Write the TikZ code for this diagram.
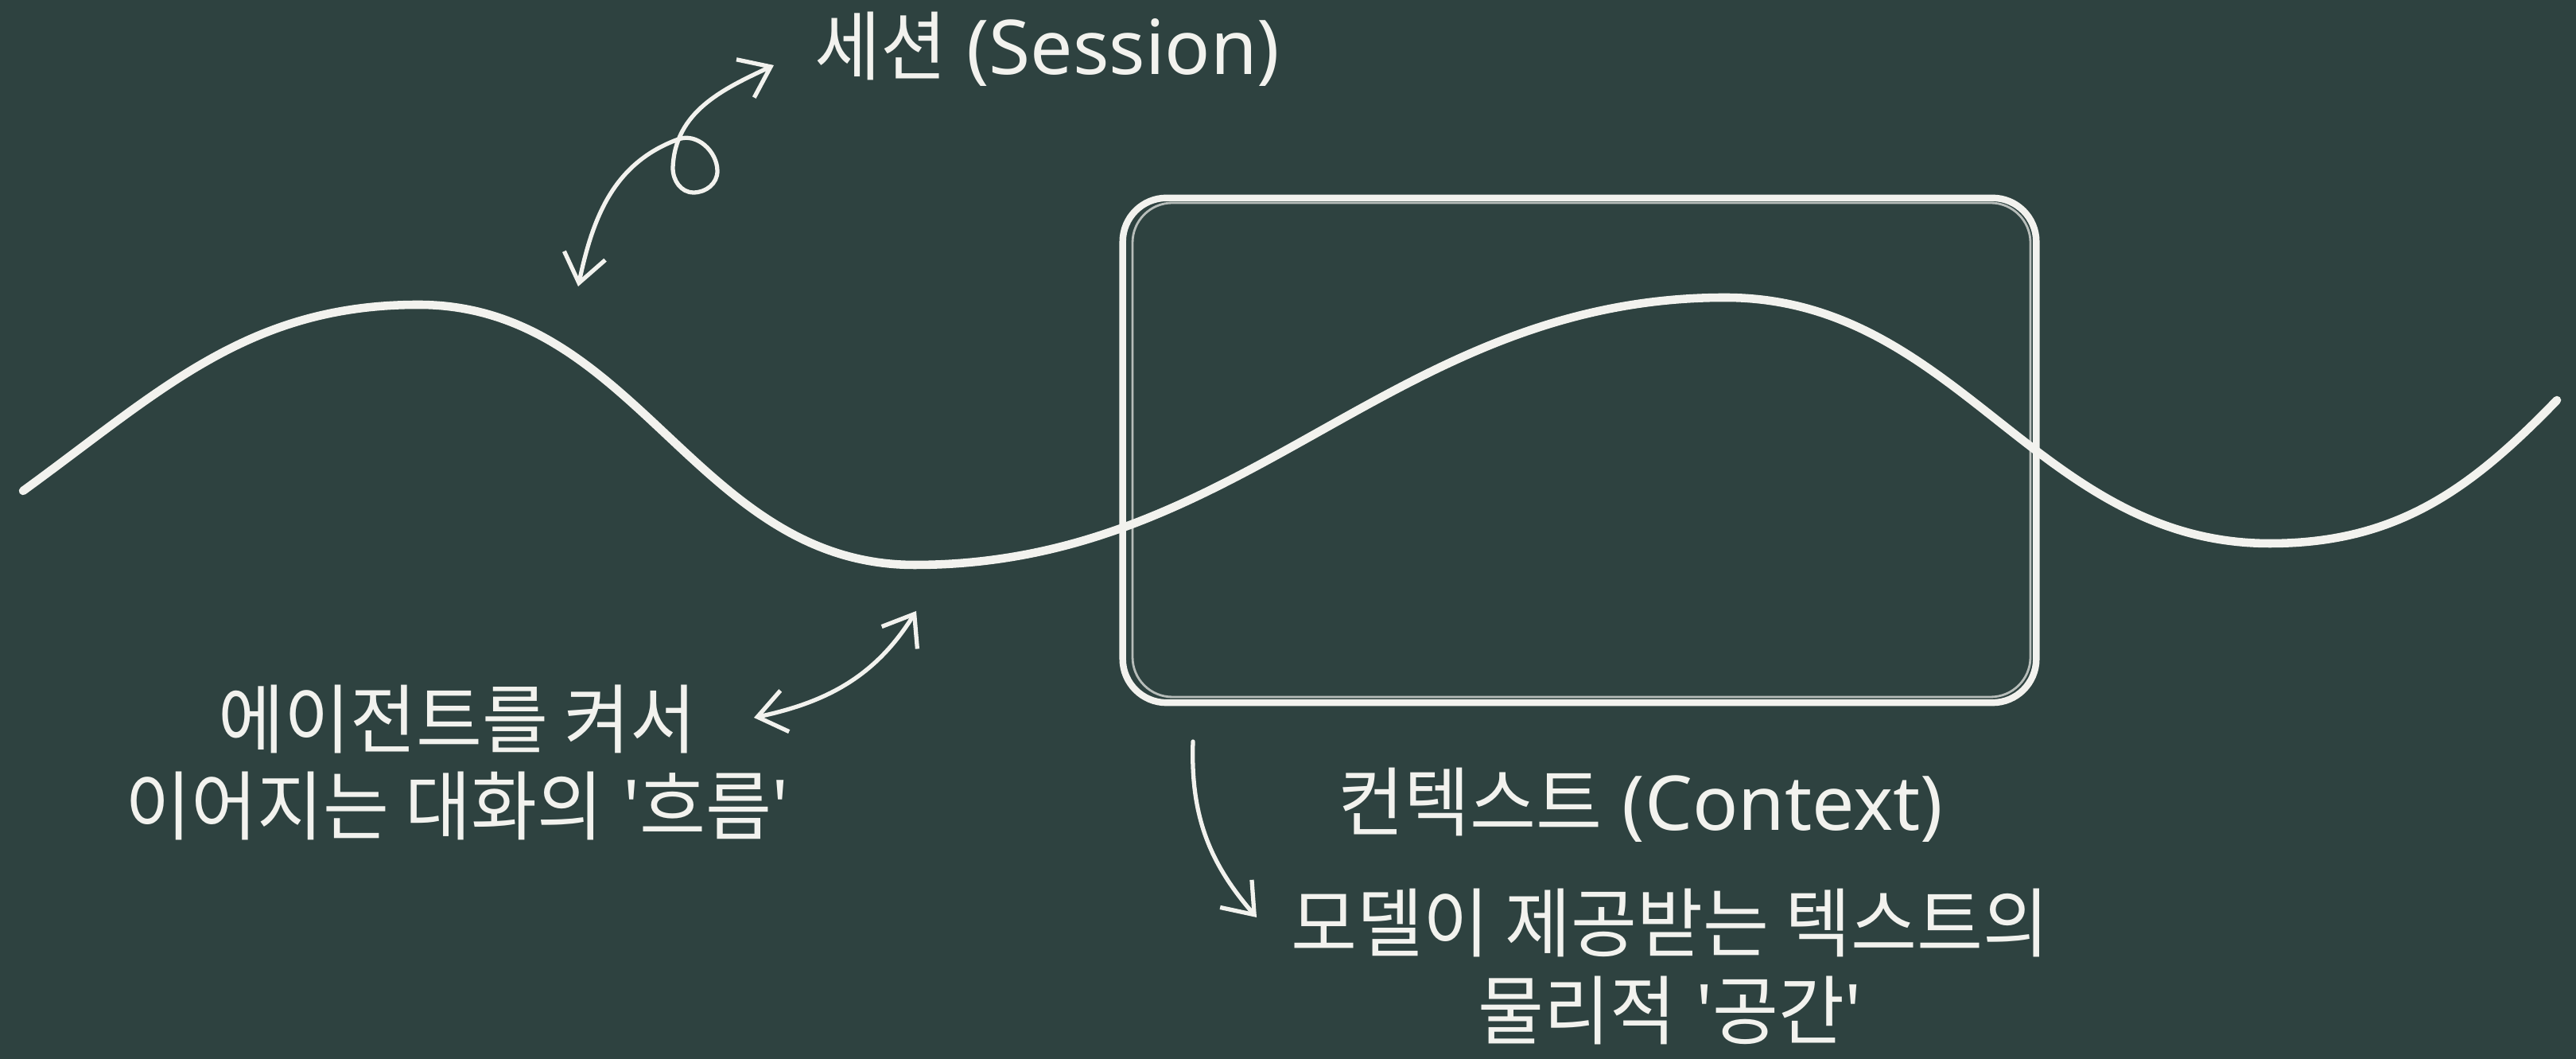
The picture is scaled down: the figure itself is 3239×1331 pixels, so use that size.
\documentclass[tikz,border=0pt]{standalone}
\usepackage{fontspec}
\setmainfont{Noto Sans}
\newfontfamily\hangul[FakeStretch=0.95]{Noto Sans CJK KR}
\usetikzlibrary{arrows.meta,positioning}
\definecolor{cbboard}{HTML}{2E4240}
\definecolor{cbchalk}{HTML}{F2F2EE}

\begin{document}
\begin{tikzpicture}[x=0.01cm,y=0.01cm,>={Straight Barb[length=10pt,width=15pt]},
    chalk/.style={draw=cbchalk,line cap=round,line join=round},
    label/.style={text=cbchalk,align=center,inner sep=0pt,font=\fontsize{27}{31}\selectfont}]
    \fill[cbboard] (0,0) rectangle (3239,1331);
    \useasboundingbox (0,0) rectangle (3239,1331);
    % the flow
    \draw[chalk,line width=3pt] (29,714) to[out=36,in=180] (526,948) to[out=0,in=180] (1150,621)
      to[out=0,in=180] (2169,957) to[out=0,in=180] (2854,648) to[out=0,in=226] (3215,828);
    % context window
    \node[chalk,line width=2.4pt,rounded corners=0.55cm,minimum width=11.48cm,minimum height=6.34cm,inner sep=0] (ctxbox) at (1986,765) {};
    \draw[chalk,line width=0.8pt,opacity=0.7,rounded corners=0.5cm] (1424,1076) rectangle (2553,455);
    % labels
    \node[label] (session) at (1317,1269) {{\hangul 세션} (Session)};
    \node[label] (flow) at (575,373) {{\hangul 에이전트를 켜서}\\{\hangul 이어지는 대화의} \textquotesingle{\hangul 흐름}\textquotesingle};
    \node[label] (context) at (2063,319) {{\hangul 컨텍스트} (Context)};
    \node[label] (space) at (2100,116) {{\hangul 모델이 제공받는 텍스트의}\\{\hangul 물리적} \textquotesingle{\hangul 공간}\textquotesingle};
    % arrows
    \coordinate (sesfoot) at (727,971);
    \coordinate (seshead) at (973,1249);
    \draw[chalk,line width=1.5pt,<->] (sesfoot) to[out=78,in=200] (853,1156) to[out=20,in=90] (902,1116)
      to[out=270,in=0] (872,1089) to[out=180,in=270] (846,1120) to[out=88,in=205] (seshead);
    \coordinate (flowtail) at (948,429);
    \coordinate (flowhead) at (1152,563);
    \draw[chalk,line width=1.5pt,<->] (flowtail) to[out=12,in=238] (flowhead);
    \coordinate (ctxtail) at (1500,399);
    \coordinate (ctxhead) at (1580,178);
    \draw[chalk,line width=1.5pt,->] (ctxtail) to[out=268,in=131] (ctxhead);
  \end{tikzpicture}
\end{document}
